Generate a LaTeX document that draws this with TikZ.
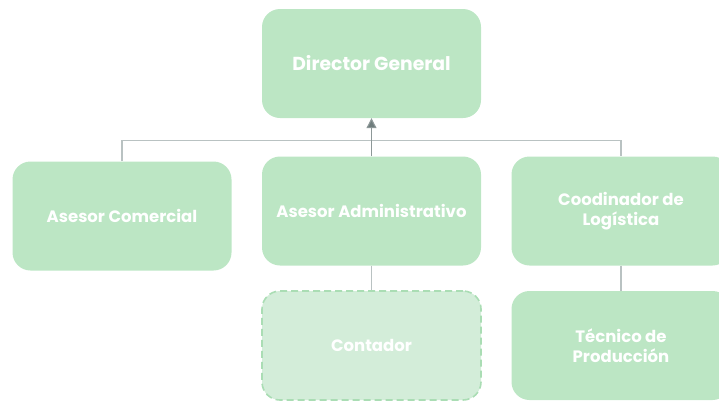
\documentclass[tikz,border=0pt]{standalone}
\usepackage{fontspec}
\setmainfont{Poppins}
\usetikzlibrary{arrows.meta}
\definecolor{cajaverde}{HTML}{BCE6C4}
\definecolor{cajaclara}{HTML}{D3EDD9}
\definecolor{bordeverde}{HTML}{AADDB4}
\definecolor{lineagris}{HTML}{B9C2C2}
\definecolor{flechagris}{HTML}{6F7D7D}
\tikzset{
  cargo/.style={rectangle, rounded corners=18pt, fill=cajaverde, text=white,
    minimum width=219pt, minimum height=109pt, inner sep=0pt, align=center,
    font=\bfseries\fontsize{16.5}{20}\selectfont},
  vacante/.style={cargo, fill=cajaclara, draw=bordeverde, line width=1.6pt,
    dash pattern=on 7pt off 4pt},
  enlace/.style={draw=lineagris, line width=1.1pt}
}
\begin{document}
\begin{tikzpicture}[x=1pt,y=1pt]
      \useasboundingbox (0,0) rectangle (719,-400);
      \draw
        (371.5,-63.5) node[cargo, font=\bfseries\fontsize{18.8}{22}\selectfont] (dir){Director General}
        (122,-216) node[cargo] (com){Asesor Comercial}
        (371.5,-211) node[cargo] (adm){Asesor Administrativo}
        (621,-211) node[cargo] (coo){Coodinador de\\Logística}
        (371.5,-345.5) node[vacante] (con){Contador}
        (621,-345.5) node[cargo] (tec){Técnico de\\Producción};
      \coordinate (barra) at (371.5,-140.5);
      \begin{scope}[enlace]
        \draw (com.north) |- (barra) -| (coo.north);
        \draw[-{Triangle[length=10pt,width=10pt,fill=flechagris]}, flechagris!60!lineagris] (adm.north) -- (dir.south);
        \draw (adm.south) to (con.north);
        \draw (coo.south) to (tec.north);
      \end{scope}
    \end{tikzpicture}
\end{document}
